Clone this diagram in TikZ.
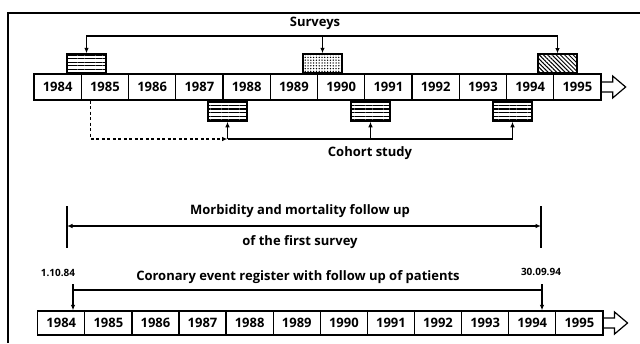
\documentclass[tikz,border=0pt]{standalone}
\usepackage{fontspec}
\setmainfont{Open Sans}
\usetikzlibrary{arrows.meta,patterns.meta,calc}
\begin{document}
\begin{tikzpicture}[x=1pt,y=-1pt,
  yr/.style={draw,line width=1.3pt,minimum width=47.25pt,minimum height=26pt,inner sep=0pt,
    font=\bfseries\fontsize{13}{15}\selectfont},
  yrb/.style={yr,minimum width=47.1pt,minimum height=24pt},
  mark box/.style={draw,line width=1.5pt,minimum width=39pt,minimum height=19pt,inner sep=0pt},
  hlines/.style={mark box,pattern={Lines[angle=0,distance=3.6pt,line width=1.2pt]}},
  dotbox/.style={mark box,pattern={Dots[distance=2.8pt,radius=0.75pt]}},
  diagbox/.style={mark box,pattern={Lines[angle=-45,distance=3pt,line width=1pt]}},
  conn/.style={line width=1.1pt},
  tip/.style={-{Latex[length=5.5pt,width=4.5pt]}},
  tips/.style={{Latex[length=5.5pt,width=4.5pt]}-{Latex[length=5.5pt,width=4.5pt]}},
  lbl/.style={font=\bfseries\fontsize{13}{15}\selectfont,inner sep=0pt},
  small/.style={font=\bfseries\fontsize{10}{12}\selectfont,inner sep=0pt},
  hollow/.style={line width=1.2pt,line join=miter}]
\useasboundingbox (0,0) rectangle (640,343);
% frame
\draw[line width=1.1pt] (8,343) -- (8,13) -- (640,13);
% top timeline
\foreach \yy [count=\i from 0] in {1984,...,1995}
  \node[yr] (t\yy) at ({34+47.25*(\i+0.5)},87) {\yy};
\draw[hollow] ($(t1995.east)+(0,-5)$) -- ++(11,0) -- ++(0,-6) -- ++(13,11) -- ++(-13,11) -- ++(0,-6) -- ++(-11,0);
% survey boxes
\node[hlines] (sA) at (86.5,63.5) {};
\node[dotbox] (sB) at (322.5,63.5) {};
\node[diagbox] (sC) at (557.5,63.5) {};
\coordinate (survy) at (0,36);
\draw[conn,tips] (sA.north) -- (sA.north |- survy) -| (sC.north);
\draw[conn,tip] (sB.north |- survy) -- (sB.north);
\node[lbl] (surveys) at (315,23) {Surveys};
% cohort boxes
\node[hlines] (cA) at (227.5,111.5) {};
\node[hlines] (cB) at (370.5,111.5) {};
\node[hlines] (cC) at (512.5,111.5) {};
\coordinate (cohy) at (0,139);
\draw[conn] (cA.south |- cohy) -- (cC.south |- cohy);
\draw[conn,tip] (cA.south |- cohy) -- (cA.south);
\draw[conn,tip] (cB.south |- cohy) -- (cB.south);
\draw[conn,tip] (cC.south |- cohy) -- (cC.south);
\coordinate (dstart) at ($(t1985.south west)+(10,0)$);
\draw[conn,dash pattern=on 3pt off 2.5pt,tip] (dstart) |- (cA.south |- cohy);
\node[lbl] (cohort) at (370,153) {Cohort study};
% morbidity follow-up
\coordinate (mL) at (67,226);
\coordinate (mR) at (541,226);
\draw[conn,tips] (mL) -- (mR);
\draw[conn] (mL) ++(0,-20) -- ++(0,42);
\draw[conn] (mR) ++(0,-20) -- ++(0,42);
\node[lbl] (morb) at (300,211) {Morbidity and mortality follow up};
\node[lbl] (first) at (300,242) {of the first survey};
% bottom timeline
\foreach \yy [count=\i from 0] in {1984,...,1995}
  \node[yrb] (b\yy) at ({37.7+47.1*(\i+0.5)},323) {\yy};
\draw[hollow] ($(b1995.east)+(0,-5)$) -- ++(11,0) -- ++(0,-6) -- ++(13,11) -- ++(-13,11) -- ++(0,-6) -- ++(-11,0);
\coordinate (regL) at (73,290);
\coordinate (regR) at (542,290);
\draw[conn] (regL) -- (regR);
\draw[conn,tip] ($(regL)+(0,-6)$) -- (regL |- b1984.north);
\draw[conn,tip] ($(regR)+(0,-6)$) -- (regR |- b1994.north);
\node[small] (d1) at (58,273) {1.10.84};
\node[small] (d2) at (541,272) {30.09.94};
\node[lbl] (coron) at (298,277) {Coronary event register with follow up of patients};
\end{tikzpicture}
\end{document}
